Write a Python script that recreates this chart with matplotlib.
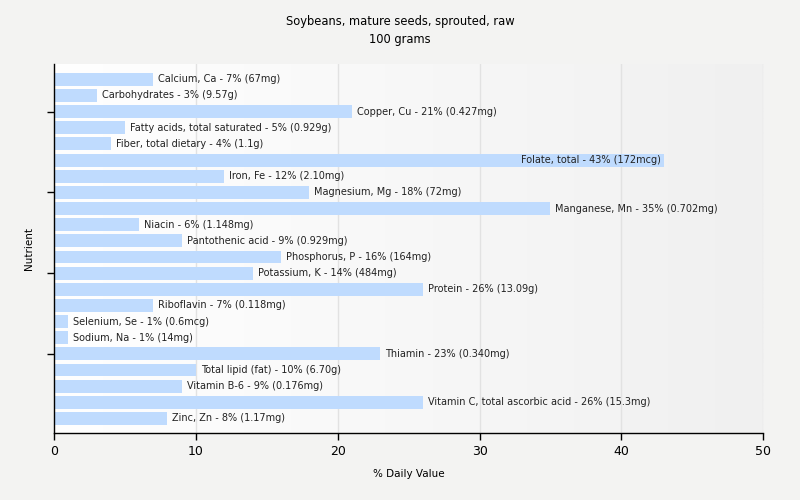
import matplotlib
matplotlib.use("Agg")
import matplotlib.pyplot as plt
import numpy as np

# data
nutrients = ["Calcium, Ca", "Carbohydrates", "Copper, Cu", "Fatty acids, total saturated",
             "Fiber, total dietary", "Folate, total", "Iron, Fe", "Magnesium, Mg",
             "Manganese, Mn", "Niacin", "Pantothenic acid", "Phosphorus, P", "Potassium, K",
             "Protein", "Riboflavin", "Selenium, Se", "Sodium, Na", "Thiamin",
             "Total lipid (fat)", "Vitamin B-6", "Vitamin C, total ascorbic acid", "Zinc, Zn"]
pct = [7, 3, 21, 5, 4, 43, 12, 18, 35, 6, 9, 16, 14, 26, 7, 1, 1, 23, 10, 9, 26, 8]
amounts = ["67mg", "9.57g", "0.427mg", "0.929g", "1.1g", "172mcg", "2.10mg", "72mg",
           "0.702mg", "1.148mg", "0.929mg", "164mg", "484mg", "13.09g", "0.118mg",
           "0.6mcg", "14mg", "0.340mg", "6.70g", "0.176mg", "15.3mg", "1.17mg"]

bg = "#f3f3f2"
fig = plt.figure(figsize=(8, 5), dpi=100, facecolor=bg)
ax = fig.add_axes([0.0675, 0.134, 0.8865, 0.738])

y = np.arange(len(nutrients))
ax.set_xlim(0, 50)
ax.set_ylim(21.9, -0.95)

# white -> grey gradient behind the bars
grad = np.linspace(0, 1, 256).reshape(1, -1)
cmap = matplotlib.colors.LinearSegmentedColormap.from_list("g", ["#ffffff", "#f0f0f0"])
ax.imshow(grad, extent=[0, 50, 21.9, -0.95], aspect="auto", cmap=cmap, zorder=0)

for gx in range(10, 51, 10):
    ax.axvline(gx, color="#e2e2e2", lw=1, zorder=1)

ax.barh(y, pct, height=0.8, color="#bfdbfe", zorder=2)

for i, (n, p, a) in enumerate(zip(nutrients, pct, amounts)):
    txt = f"{n} - {p}% ({a})"
    if p > 40:
        ax.text(p - 0.2, i, txt, ha="right", va="center", fontsize=7, color="#222222", zorder=3)
    else:
        ax.text(p + 0.35, i, txt, ha="left", va="center", fontsize=7, color="#222222", zorder=3)

ax.set_xticks(range(0, 51, 10))
ax.set_yticks([2, 7, 12, 17])
ax.set_yticklabels([])
ax.tick_params(axis="both", length=5, width=1, labelsize=9, color="black")
for s in ["top", "right"]:
    ax.spines[s].set_visible(False)
for s in ["left", "bottom"]:
    ax.spines[s].set_linewidth(1)

ax.set_xlabel("% Daily Value", fontsize=7.5, labelpad=8)
ax.set_ylabel("Nutrient", fontsize=7.5, labelpad=6)
fig.suptitle("Soybeans, mature seeds, sprouted, raw\n100 grams", fontsize=8.3, y=0.97,
             linespacing=1.5)

fig.savefig("out.png", dpi=100, facecolor=bg)
